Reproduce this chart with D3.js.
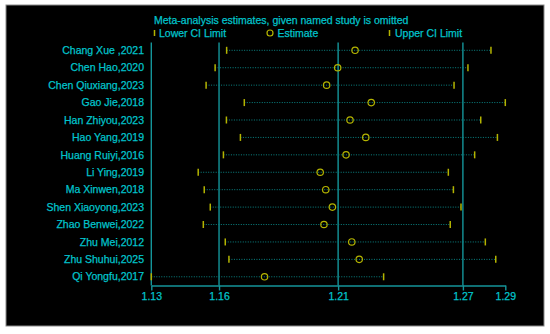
<!DOCTYPE html>
<html>
<head>
<meta charset="utf-8">
<script src="https://cdn.jsdelivr.net/npm/d3@7"></script>
<style>
  html, body { margin: 0; padding: 0; background: #fff; }
  svg { display: block; }
  text { font-family: "Liberation Sans", Arial, sans-serif; }
</style>
</head>
<body>
<svg id="chart" width="550" height="334"></svg>
<script>
const studies = ["Chang Xue ,2021", "Chen Hao,2020", "Chen Qiuxiang,2023", "Gao Jie,2018",
  "Han Zhiyou,2023", "Hao Yang,2019", "Huang Ruiyi,2016", "Li Ying,2019", "Ma Xinwen,2018",
  "Shen Xiaoyong,2023", "Zhao Benwei,2022", "Zhu Mei,2012", "Zhu Shuhui,2025", "Qi Yongfu,2017"];
const estimate = [1.2195, 1.2116, 1.2066, 1.2269, 1.2172, 1.2244, 1.2154, 1.2037, 1.2062,
  1.2092, 1.2054, 1.2180, 1.2214, 1.1789];
const lowerCI = [1.1623, 1.1573, 1.1534, 1.1700, 1.1622, 1.1683, 1.1609, 1.1500, 1.1526,
  1.1552, 1.1522, 1.1617, 1.1633, 1.1300];
const upperCI = [1.2831, 1.2721, 1.2655, 1.2900, 1.2782, 1.2862, 1.2753, 1.2628, 1.2652,
  1.2688, 1.2637, 1.2804, 1.2854, 1.2326];
const tickValues = [1.13, 1.159, 1.2118, 1.2697, 1.29];
const tickLabels = ["1.13", "1.16", "1.21", "1.27", "1.29"];
const refValues = [1.13, 1.159, 1.2118, 1.2697];

const cyan = "#00c4cc";
const teal = "#14959a";
const dotTeal = "#0a8585";
const olive = "#b4b400";
const FS = "10.5px";

const svg = d3.select("#chart");
svg.append("rect").attr("x", 6).attr("y", 5).attr("width", 538).attr("height", 321)
  .attr("fill", "#000").attr("stroke", "#8a8a8a").attr("stroke-width", 1);

const x = d3.scaleLog().domain([1.13, 1.29]).range([151.3, 505.3]);
const y = d3.scaleBand().domain(studies).range([41.6, 285.5]);
const yc = d => y(d) + y.bandwidth() / 2;
const axisY = 285.5;

function styleText(sel) {
  return sel.attr("fill", cyan).attr("font-size", FS)
    .attr("stroke", cyan).attr("stroke-width", 0.25);
}

// reference lines
svg.append("g").selectAll("line").data(refValues).join("line")
  .attr("x1", d => x(d)).attr("x2", d => x(d))
  .attr("y1", 42.5).attr("y2", axisY)
  .attr("stroke", teal).attr("stroke-width", 1.4);

// axis
const axis = d3.axisBottom(x).tickValues(tickValues)
  .tickFormat((d, i) => tickLabels[i]).tickSize(5).tickSizeOuter(0).tickPadding(2);
const ag = svg.append("g").attr("transform", `translate(0,${axisY})`).call(axis);
ag.select(".domain").attr("stroke", teal).attr("stroke-width", 1.4);
ag.selectAll(".tick line").attr("stroke", teal).attr("stroke-width", 1.4);
styleText(ag.selectAll(".tick text"))
  .attr("font-family", "Liberation Sans, Arial, sans-serif");

const rows = studies.map((s, i) => ({ s, est: estimate[i], lo: lowerCI[i], hi: upperCI[i] }));

// dotted lines
svg.append("g").selectAll("line").data(rows).join("line")
  .attr("x1", d => x(d.lo)).attr("x2", d => x(d.hi))
  .attr("y1", d => yc(d.s)).attr("y2", d => yc(d.s))
  .attr("stroke", dotTeal).attr("stroke-width", 1).attr("stroke-dasharray", "1,1.5");

// CI markers
const mk = svg.append("g");
mk.selectAll("line.lo").data(rows).join("line").attr("class", "lo")
  .attr("x1", d => x(d.lo)).attr("x2", d => x(d.lo))
  .attr("y1", d => yc(d.s) - 3.5).attr("y2", d => yc(d.s) + 3.5)
  .attr("stroke", olive).attr("stroke-width", 1.5);
mk.selectAll("line.hi").data(rows).join("line").attr("class", "hi")
  .attr("x1", d => x(d.hi)).attr("x2", d => x(d.hi))
  .attr("y1", d => yc(d.s) - 3.5).attr("y2", d => yc(d.s) + 3.5)
  .attr("stroke", olive).attr("stroke-width", 1.5);
mk.selectAll("circle").data(rows).join("circle")
  .attr("cx", d => x(d.est)).attr("cy", d => yc(d.s)).attr("r", 3.2)
  .attr("fill", "none").attr("stroke", olive).attr("stroke-width", 1.2);

// study labels
styleText(svg.append("g").selectAll("text").data(rows).join("text")
  .attr("x", 144).attr("y", d => yc(d.s)).attr("dy", "0.35em")
  .attr("text-anchor", "end")).text(d => d.s);

// title
styleText(svg.append("text").attr("x", 154).attr("y", 20).attr("dy", "0.35em"))
  .text("Meta-analysis estimates, given named study is omitted");

// legend
const leg = svg.append("g");
leg.append("line").attr("x1", 154.5).attr("x2", 154.5).attr("y1", 30).attr("y2", 36)
  .attr("stroke", olive).attr("stroke-width", 1.5);
styleText(leg.append("text").attr("x", 159).attr("y", 33).attr("dy", "0.35em"))
  .text("Lower CI Limit");
leg.append("circle").attr("cx", 270).attr("cy", 33).attr("r", 3).attr("fill", "none")
  .attr("stroke", olive).attr("stroke-width", 1.2);
styleText(leg.append("text").attr("x", 277.5).attr("y", 33).attr("dy", "0.35em"))
  .text("Estimate");
leg.append("line").attr("x1", 389.5).attr("x2", 389.5).attr("y1", 30).attr("y2", 36)
  .attr("stroke", olive).attr("stroke-width", 1.5);
styleText(leg.append("text").attr("x", 395).attr("y", 33).attr("dy", "0.35em"))
  .text("Upper CI Limit");
</script>
</body>
</html>
